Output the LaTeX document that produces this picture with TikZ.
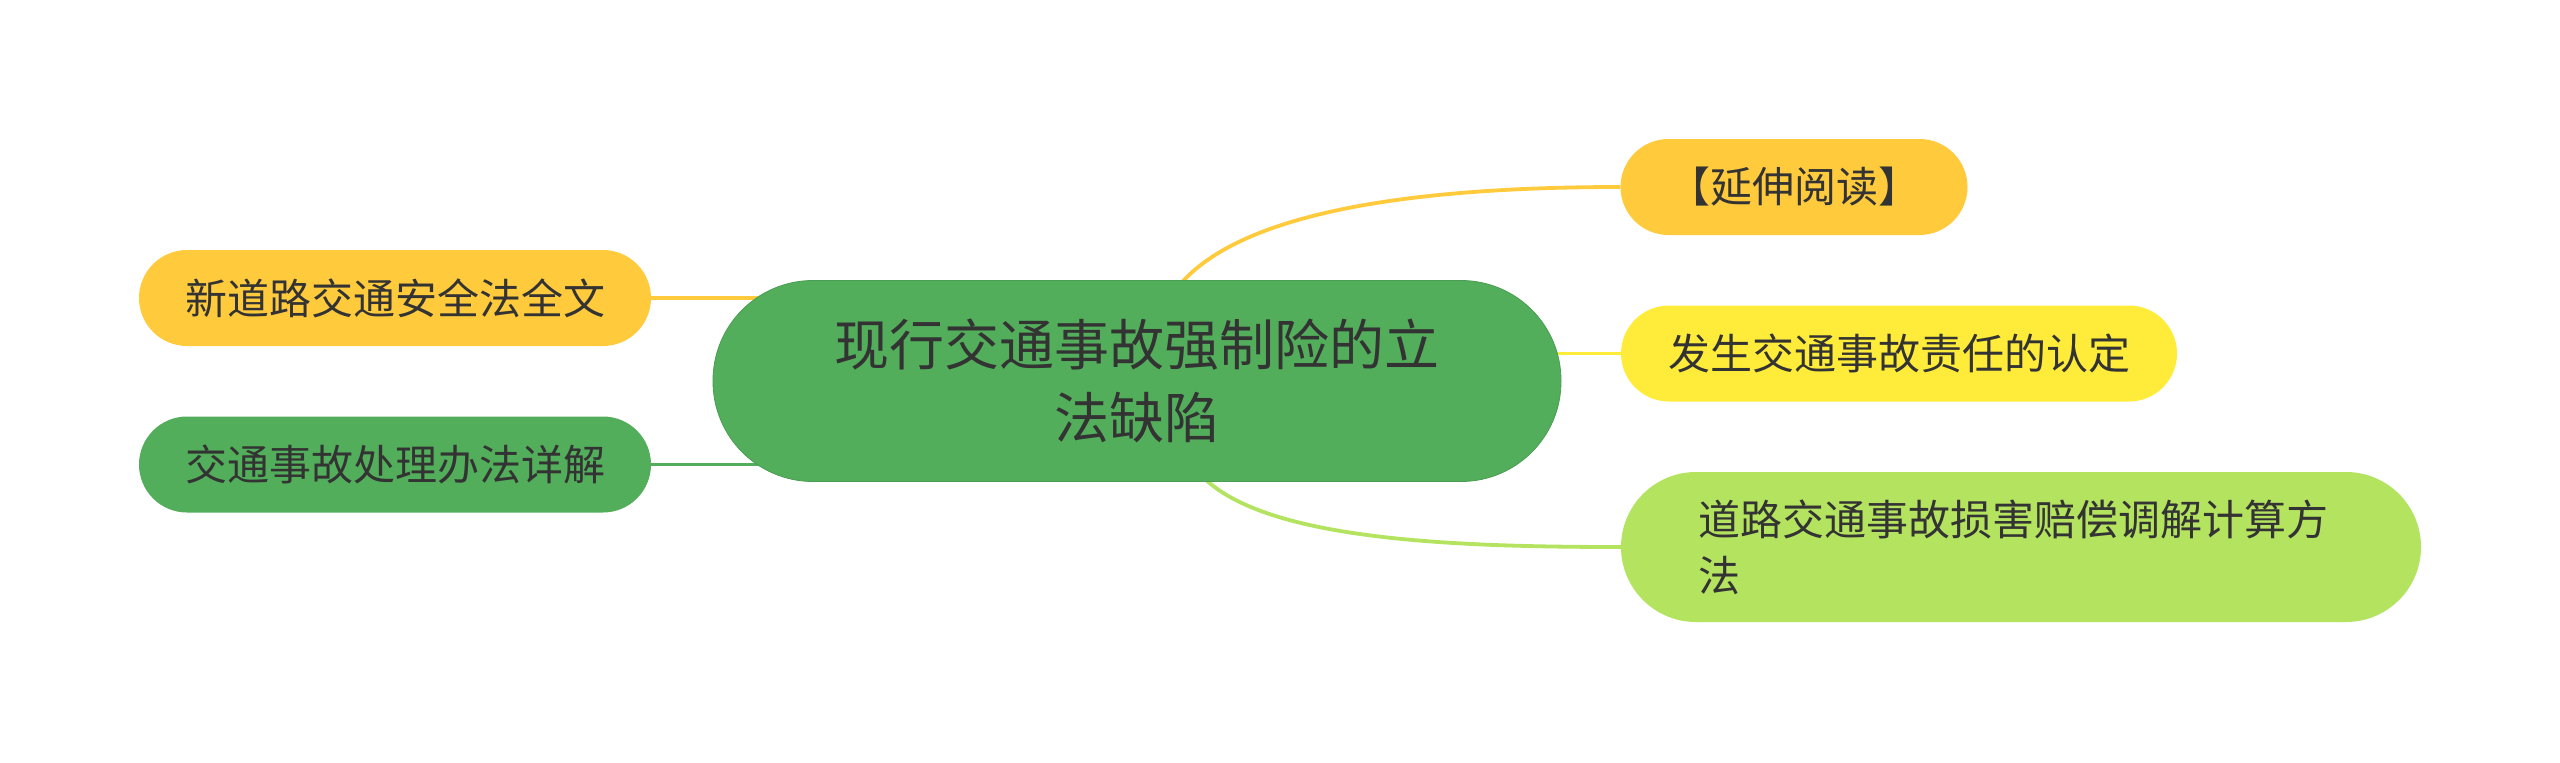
\documentclass[tikz,border=0pt]{standalone}
\usepackage{fontspec}
\newfontfamily\cjk{Noto Sans CJK SC}
\usetikzlibrary{backgrounds}
\definecolor{mapgreen}{HTML}{52AE5B}
\definecolor{maporange}{HTML}{FFCB3D}
\definecolor{mapyellow}{HTML}{FFEC3A}
\definecolor{maplime}{HTML}{B3E35F}
\definecolor{maptext}{HTML}{333333}
\begin{document}
\begin{tikzpicture}[
    x=1pt, y=-1pt,
    root/.style={fill=mapgreen, draw=mapgreen!90!black, line width=0.8pt,
                 rounded corners=100pt, minimum width=848pt, minimum height=201pt,
                 align=center, text=maptext, font=\cjk\fontsize{55}{73}\selectfont},
    topic/.style={rounded corners=48pt, minimum height=96pt, inner sep=0pt,
                  align=center, text=maptext, font=\cjk\fontsize{42}{56}\selectfont},
    link/.style={line width=3.8pt}
  ]
    \useasboundingbox (0,0) rectangle (2560,763);

    \node[root] (law) at (1137,381) {现行交通事故强制险的立\\法缺陷};
    \node[topic, fill=maporange, minimum width=512pt] (news) at (395,298) {新道路交通安全法全文};
    \node[topic, fill=mapgreen, minimum width=512pt] (deal) at (395,464.5) {交通事故处理办法详解};
    \node[topic, fill=maporange, minimum width=347pt] (more) at (1794,187) {【延伸阅读】};
    \node[topic, fill=mapyellow, minimum width=556pt] (duty) at (1899,353.5) {发生交通事故责任的认定};
    \node[topic, fill=maplime, minimum width=800pt, minimum height=150pt,
          rounded corners=75pt, text width=646pt, align=left] (calc) at (2021,547)
          {道路交通事故损害赔偿调解计算方\\法};

    \begin{scope}[on background layer]
      \fill[white] (0,0) rectangle (2560,763);
      \draw[link, maporange] ([xshift=40pt,yshift=-8pt]law.north)
          .. controls (1235,215) and (1400,187) .. (more.west);
      \draw[link, mapyellow] (duty.west) -- (duty.west -| law.center);
      \draw[link, maplime] ([xshift=63pt,yshift=8pt]law.south)
          .. controls (1260,540) and (1450,547) .. (calc.west);
      \draw[link, maporange] (news.east) -- (news.east -| law.center);
      \draw[link, mapgreen] (deal.east) -- (deal.east -| law.center);
    \end{scope}
  \end{tikzpicture}
\end{document}
